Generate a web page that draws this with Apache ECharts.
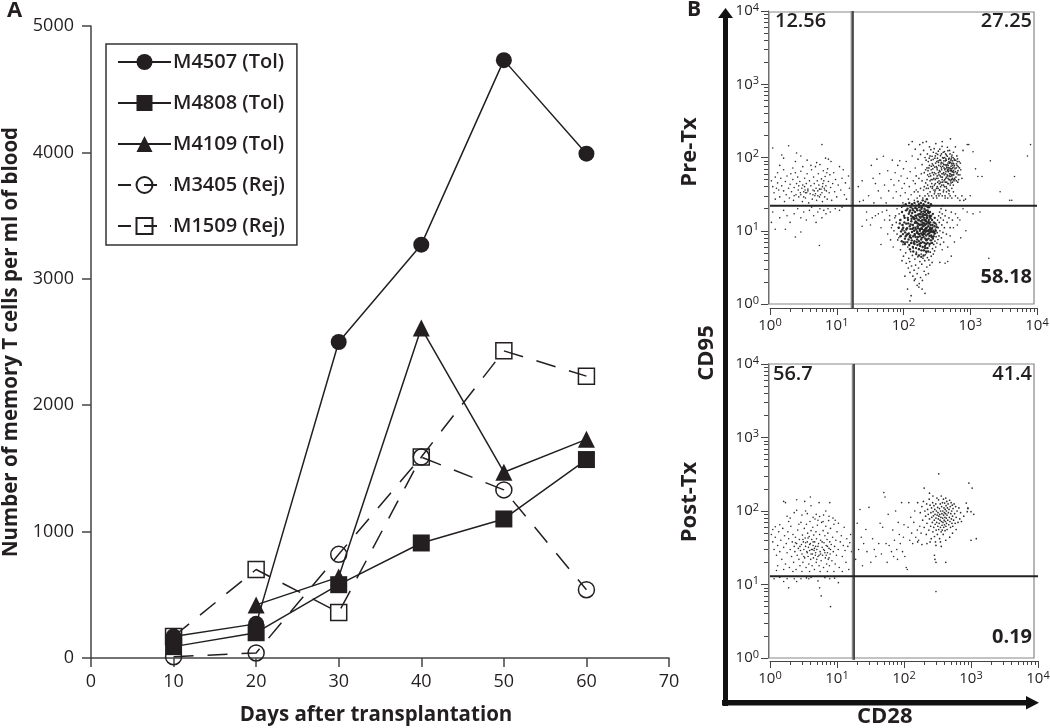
<!DOCTYPE html>
<html>
<head>
<meta charset="utf-8">
<title>Memory T cells</title>
<script src="https://cdn.jsdelivr.net/npm/echarts@6/dist/echarts.min.js"></script>
<style>
html, body { margin: 0; padding: 0; background: #fff; }
#main { width: 1050px; height: 728px; }
</style>
</head>
<body>
<div id="main"></div>
<script>
// panel A
var days = [10, 20, 30, 40, 50, 60];
var m4507 = [170, 270, 2500, 3270, 4730, 3990];
var m4808 = [90, 200, 580, 910, 1100, 1570];
var m4109 = [null, 420, 640, 2610, 1470, 1730];
var m3405 = [10, 40, 820, 1590, 1330, 540];
var m1509 = [170, 700, 360, 1590, 2430, 2230];

// panel B, minor ticks and gates
var minorTicks = [2,3,4,5,6,7,8,9,20,30,40,50,60,70,80,90,200,300,400,500,600,700,800,900,2000,3000,4000,5000,6000,7000,8000,9000];
var preGateX = 17, preGateY = 22;
var postGateX = 17.5, postGateY = 13;

// pre-Tx dots
var preLeft = [[1.1,135],[1.3,62],[1.5,108],[1.6,98],[1.9,145],[1.4,78],[1.2,54],[2.4,88],[2.5,115],[2.9,105],[3.1,75],[6,150],[6.8,98],[7.5,95],[8.2,88],[1.05,48],[1.1,40],[1.15,33],[1.2,27],[1.3,45],[1.35,36],[1.4,29],[1.45,52],[1.5,41],[1.6,35],[1.65,25],[1.7,47],[1.75,31],[1.8,56],[1.9,38],[1.95,28],[2,43],[2.05,60],[2.1,34],[2.2,50],[2.25,26],[2.3,39],[2.4,62],[2.45,31],[2.5,44],[2.6,54],[2.65,36],[2.7,29],[2.8,47],[2.85,33],[2.9,65],[3,38],[3.05,25],[3.1,42],[3.2,34],[3.3,52],[3.35,36],[3.4,28],[3.5,44],[3.55,33],[3.6,60],[3.7,37],[3.8,24],[3.9,48],[4,32],[4.1,41],[4.2,68],[4.3,27],[4.4,36],[4.5,54],[4.6,44],[4.7,30],[4.8,75],[4.9,38],[5,26],[5.1,48],[5.2,35],[5.3,60],[5.4,42],[5.5,29],[5.6,80],[5.8,37],[5.9,51],[6,33],[6.1,25],[6.2,44],[6.3,66],[6.5,38],[6.6,29],[6.7,55],[6.9,41],[7,35],[7.2,27],[7.3,70],[7.5,47],[7.7,33],[7.9,58],[8.1,39],[8.4,26],[8.7,44],[9,62],[9.3,34],[9.6,50],[10,29],[10.5,42],[11,75],[11.5,36],[12,52],[12.5,68],[13,31],[13.5,45],[14,27],[15,56],[15.5,38],[4.1,78],[5,85],[3.6,92],[2.2,72],[1.6,68],[4.6,35],[3.2,29],[2.7,41],[5.7,31],[6.4,48],[7.1,62],[3.4,33],[2.3,30],[1.25,38],[4.8,32],[5.5,37],[6.1,40],[3.7,35],[2.9,31],[3.3,40],[4.4,31],[5.2,30],[6.6,36]];
var preLowLeft = [[1.1,18],[1.4,15],[1.6,19],[1.8,16],[2,13],[2.3,17],[2.6,20],[2.9,15],[3.2,18],[3.5,14],[3.9,19],[4.2,21],[4.5,16],[4.9,13],[5.2,18],[5.6,20],[6,15],[6.4,19],[6.9,17],[7.4,20],[8,18],[9.5,20],[11,19],[12,21],[1.2,10.5],[1.7,10.5],[2.4,8.2],[2.9,9.6],[5.5,6.3],[1.05,13]];
var preMid = [[21,40],[22,25],[24,48],[25,26],[28,18],[30,30],[32,12],[33,78],[35,52],[36,24],[38,44],[40,95],[42,35],[44,60],[46,28],[48,18],[50,104],[52,42],[55,24],[58,66],[60,35],[62,16],[65,50],[68,92],[70,28],[72,42],[75,62],[78,34],[80,20],[82,78],[85,48],[88,90],[90,30],[92,56],[95,38],[98,24],[100,70],[103,44],[106,33],[110,88],[114,52],[118,27],[122,40],[126,64],[130,31],[135,105],[140,48],[145,26],[150,72],[155,36],[28,14],[34,15],[42,17],[52,14],[58,9],[46,11],[64,7.5],[74,15],[85,8],[56,19],[66,11],[38,16],[24,11.5],[46,6.5],[70,6]];
var preArm = [[120,150],[135,165],[150,130],[165,95],[175,150],[180,110],[190,80],[195,160],[200,125],[205,62],[210,100],[215,45],[220,165],[225,72],[230,32],[235,88],[240,55],[245,140],[250,105],[255,40],[260,68],[265,30],[270,82],[275,50],[280,118],[285,36],[290,62],[295,98],[300,44],[305,155],[310,75],[315,28],[320,56],[325,110],[330,38],[335,86],[340,48],[345,66],[350,130],[355,32],[360,92],[365,54],[370,72],[375,42],[380,165],[385,100],[390,60],[395,34],[400,80],[405,48],[410,120],[415,68],[420,28],[425,90],[430,52],[435,40],[440,108],[445,74],[450,58],[455,138],[460,44],[465,84],[470,64],[475,95],[480,50],[485,35],[490,125],[495,72],[500,55],[505,180],[510,86],[515,45],[520,66],[525,102],[530,38],[540,78],[550,58],[560,118],[570,48],[580,92],[590,70],[600,140],[610,54],[620,82],[630,105],[640,62],[650,46],[660,75],[680,88],[700,58],[720,68],[750,52],[780,125],[230,58],[240,72],[250,48],[260,92],[270,62],[280,78],[290,42],[300,105],[310,52],[320,68],[330,90],[340,58],[350,44],[360,76],[370,112],[380,50],[390,84],[400,62],[410,40],[420,70],[430,96],[440,54],[450,80],[460,66],[470,36],[480,88],[490,60],[500,42],[510,70],[520,96],[530,56],[540,46],[550,84],[560,66],[570,74],[580,52],[600,64],[620,48],[640,88],[660,58],[215,68],[225,50],[235,38],[245,78],[255,56],[265,44],[275,70],[285,52],[295,34],[305,60],[315,88],[325,46],[335,62],[345,36],[355,56],[365,82],[375,60],[385,46],[395,98],[405,72],[415,50],[425,60],[435,78],[445,46],[455,68],[465,52],[475,72],[485,56],[495,86],[505,60],[515,76],[525,50],[535,64],[545,72],[555,50],[565,58],[190,48],[200,36],[210,30],[180,38],[170,52],[160,28],[150,44],[175,30],[195,28],[205,40],[185,60],[165,34],[155,56],[145,34],[220,38],[230,42],[240,30],[250,34],[260,50],[270,38],[280,28],[290,32],[300,36],[310,30],[320,40],[330,32],[340,30],[350,36],[360,40],[380,30],[400,36],[420,30],[440,34],[460,28],[480,32],[500,30],[530,28],[560,34],[600,30],[650,28],[700,26],[750,30],[800,26]];
var preArmMore = [[218,92],[228,112],[233,66],[243,98],[248,60],[257,128],[262,76],[268,104],[273,40],[278,94],[283,58],[288,132],[293,74],[298,50],[303,84],[308,114],[313,38],[318,72],[323,98],[328,52],[333,122],[338,78],[343,44],[348,92],[353,64],[358,106],[363,46],[368,86],[373,68],[378,142],[383,54],[388,76],[393,118],[398,42],[403,90],[408,58],[413,100],[418,80],[423,46],[428,112],[433,64],[438,92],[443,38],[448,72],[453,104],[458,56],[463,124],[468,78],[473,44],[478,68],[483,98],[488,84],[493,50],[498,112],[503,66],[508,48],[513,92],[518,58],[523,82],[528,70],[533,108],[538,52],[543,90],[548,64],[553,100],[558,42],[563,82],[568,62],[573,96],[578,78],[590,50],[605,92],[615,72],[625,60],[635,78],[645,96],[655,66],[670,50],[690,72],[710,84]];

var preHalo = [[62,14],[68,12],[72,10],[76,16],[78,13],[80,9],[82,7.5],[84,11],[86,17],[88,14],[90,5.5],[92,8.5],[94,21],[96,12],[98,6.5],[100,4.5],[102,10],[104,15],[106,7],[108,5],[112,19],[116,6],[120,4.2],[124,3.8],[128,5.2],[132,3.3],[136,4.6],[140,5.8],[144,2.9],[148,4.1],[152,3.4],[156,5.1],[160,2.6],[164,4.4],[168,3.1],[172,5.6],[176,3.8],[180,2.3],[184,4.8],[188,3.5],[192,2.1],[196,4.2],[200,5.4],[204,2.8],[208,3.9],[212,4.7],[216,2.5],[220,5],[224,3.2],[228,4.3],[232,5.8],[236,2.6],[240,4],[244,6.2],[248,3.4],[252,5.1],[256,6.8],[260,4.5],[264,7.4],[268,3.7],[272,5.7],[276,8],[280,4.8],[284,6.5],[288,9],[292,5.3],[296,7.2],[300,10.5],[304,6],[308,8.3],[312,12],[316,6.8],[320,9.4],[324,14],[328,7.6],[332,11],[336,16],[340,8.5],[344,13],[348,18],[352,10],[356,6.5],[360,15],[365,20],[370,8],[375,12],[380,17],[385,22],[390,9.5],[395,14],[400,7],[410,11],[420,16],[430,19],[440,9],[450,13],[460,6],[480,15],[500,11],[520,18],[540,14],[150,2.2],[138,2.4],[172,1.9],[125,2.7],[115,1.6],[130,1.3],[125,1.1],[210,1.4],[170,1.7],[190,1.6],[118,3.1],[110,3.6],[95,3.9],[105,2.4],[160,1.8],[145,2.1]];
var preFar = [[850,27],[900,150],[950,150],[1100,120],[1200,70],[1000,30],[1300,55],[1500,55],[2000,90],[2800,34],[3900,26],[4200,26],[4600,55],[7200,105],[8000,150],[900,18],[1100,17],[1400,18],[1900,4.2],[780,20],[860,10],[720,8],[650,15],[600,17],[700,14],[640,12],[560,11],[580,7],[500,8.5],[520,4.5],[460,3.8],[420,3.6],[380,5.5],[350,3.7]];
var preCore = [[100,22],[108,23],[115,20],[122,24],[128,21],[134,23],[140,19],[146,24],[152,22],[158,20],[164,25],[170,23],[176,19],[182,24],[188,21],[194,26],[200,23],[206,20],[212,25],[218,22],[224,27],[230,19],[236,24],[242,21],[250,18],[258,23],[95,18],[102,16],[109,19],[116,15],[123,18],[130,16],[137,20],[143,15],[149,18],[155,16],[161,19],[167,14],[173,17],[179,15],[185,18],[191,14],[197,17],[203,15],[209,18],[215,14],[221,17],[227,15],[233,18],[239,14],[245,16],[252,13],[260,16],[268,14],[276,17],[285,13],[294,15],[90,14],[97,12],[104,15],[110,12.5],[117,14],[124,11.5],[131,13.5],[138,12],[145,14.5],[151,11],[157,13],[163,11.5],[169,14],[175,12],[181,13.5],[187,11],[193,13],[199,11.5],[205,14],[211,12],[217,13.5],[223,11],[229,13],[235,11.5],[241,12.5],[248,10.5],[255,12],[263,10.5],[272,12],[281,10],[292,11.5],[305,10],[85,11],[92,9.8],[99,11],[106,9.5],[113,10.8],[120,9.2],[127,10.6],[134,9.6],[141,11],[147,9],[153,10.4],[159,9.4],[165,10.8],[171,9],[177,10.4],[183,9.2],[189,10.6],[195,8.8],[201,10.2],[207,9],[213,10.5],[219,8.6],[225,10],[231,9],[238,10.2],[245,8.5],[252,9.6],[260,8.6],[270,9.6],[282,8.4],[295,9.2],[90,8.4],[98,9],[105,7.8],[112,8.8],[119,7.6],[126,8.6],[133,7.4],[140,8.4],[146,7.2],[152,8.2],[158,7],[164,8.2],[170,7.2],[176,8.4],[182,6.8],[188,8],[194,7],[200,8.2],[206,6.8],[212,7.8],[218,6.6],[224,7.6],[230,6.8],[238,7.8],[246,6.6],[255,7.4],[268,6.8],[105,6.6],[114,7],[122,6.4],[130,6.8],[138,6],[146,6.6],[154,5.8],[162,6.4],[170,5.6],[178,6.2],[186,5.4],[194,6],[202,5.4],[210,5.8],[218,5.2],[226,5.8],[234,5.2],[125,5.6],[140,5.2],[155,4.8],[170,4.6],[185,4.4],[200,4.6],[120,17],[135,17.5],[150,16],[165,16.5],[180,16.8],[195,16],[210,16.4],[225,16],[240,17.5],[132,14.6],[148,12.8],[162,12.6],[178,10.6],[192,12],[208,10],[222,12.4],[236,9.8],[128,12.2],[144,10],[160,9.8],[176,10],[196,9.6],[216,10.8],[136,10.6],[152,13.4],[168,12.4],[184,12.2],[200,12.6],[214,9.6],[130,8],[148,8.8],[166,9.2],[184,7.6],[202,9.2],[220,7.4],[142,6.8],[160,7.6],[174,6.6],[192,8.8],[210,6.2],[150,20.5],[186,20],[216,19],[172,21],[200,18.4],[126,19],[232,21],[248,15.5],[118,12.6],[110,10.4],[103,13],[96,10.4],[88,12.6],[124,8.2],[116,9],[108,8.4],[100,7],[94,7.2],[138,15.4],[156,14.8],[174,15.6],[190,15.6],[206,12.6],[222,15],[238,13.2],[254,14.8],[270,11],[264,8.2],[276,7.8],[286,9.6],[300,12.6],[316,11.2],[250,11],[258,10],[242,9.2]];

// post-Tx dots
var postLeft = [[1.05,48],[1.1,38],[1.15,30],[1.2,44],[1.25,25],[1.3,34],[1.35,52],[1.4,28],[1.45,40],[1.5,22],[1.55,58],[1.6,32],[1.65,46],[1.7,19],[1.75,36],[1.8,27],[1.85,52],[1.9,42],[1.95,17],[2,30],[2.05,62],[2.1,24],[2.15,38],[2.2,48],[2.25,20],[2.3,33],[2.35,28],[2.4,44],[2.45,16],[2.5,36],[2.55,25],[2.6,55],[2.65,31],[2.7,22],[2.75,41],[2.8,18],[2.85,29],[2.9,70],[2.95,35],[3,26],[3.05,47],[3.1,20],[3.15,38],[3.2,30],[3.25,58],[3.3,23],[3.35,43],[3.4,33],[3.45,17],[3.5,66],[3.55,28],[3.6,38],[3.65,50],[3.7,24],[3.75,32],[3.8,19],[3.85,45],[3.9,29],[3.95,72],[4,36],[4.05,22],[4.1,54],[4.15,30],[4.2,41],[4.25,18],[4.3,26],[4.35,60],[4.4,34],[4.45,23],[4.5,47],[4.55,29],[4.6,16],[4.65,38],[4.7,78],[4.75,25],[4.8,33],[4.85,52],[4.9,20],[4.95,42],[5,30],[5.1,64],[5.2,24],[5.3,36],[5.4,18],[5.5,48],[5.6,28],[5.7,40],[5.8,21],[5.9,70],[6,32],[6.1,25],[6.2,54],[6.3,17],[6.4,37],[6.5,29],[6.6,46],[6.7,23],[6.8,62],[6.9,34],[7,19],[7.1,41],[7.2,27],[7.3,50],[7.4,22],[7.5,74],[7.6,31],[7.7,18],[7.8,38],[7.9,26],[8,58],[8.2,35],[8.4,21],[8.6,44],[8.8,28],[9,66],[9.2,33],[9.4,19],[9.6,40],[9.8,25],[10,52],[10.4,30],[10.8,17],[11.2,38],[11.6,46],[12,24],[12.4,34],[12.8,60],[13.2,29],[13.6,20],[14,42],[14.5,33],[15,16],[15.5,37],[16,48],[16.5,28],[1.6,135],[1.7,130],[2.5,142],[2.3,95],[2.5,102],[3.3,135],[3.4,100],[4,155],[5.4,130],[7.8,130],[4.1,118],[2,80],[1.8,85],[3,88],[3.6,92],[4.4,82],[4.9,90],[5.5,84],[6.3,88],[6.8,100],[7.6,85],[8.7,80],[9.4,75],[1.9,72],[2.7,66],[5.2,75],[6.2,72],[10.5,68],[3.2,24],[3.6,27],[4.1,26],[4.6,31],[5.2,33],[5.7,26],[6.3,30],[3.9,35],[4.4,38],[5,22],[6.6,27],[7.2,33],[2.8,33],[3.1,41],[3.4,37],[2.4,37],[3.7,43],[5.4,25],[6,38],[6.9,25],[7.6,23],[8,30],[4.8,27],[4.3,30],[1.2,61],[1.4,65],[1.1,56],[1.3,18],[1.6,16],[1.25,15.5],[2.2,15],[3,15],[3.9,15],[5.6,15],[7.2,15],[9,15],[12,15]];
var postLow = [[1.15,12],[1.4,12.5],[1.6,11],[1.8,12],[2.3,12],[1.9,9],[2.5,11],[2.9,12],[3.5,12.3],[4.1,12.5],[5.2,11.2],[5.5,9],[5.8,7],[7.8,12],[9.2,12.2],[10.5,10.6],[8,5],[3.8,12],[6.6,12.4],[300,8]];
var postMid = [[19,22],[20,68],[21,30],[22,105],[23,44],[24,18],[25,36],[27,56],[28,28],[30,112],[32,20],[34,42],[36,30],[38,24],[42,36],[44,68],[46,26],[50,178],[52,155],[48,60],[54,36],[56,20],[58,90],[60,34],[65,28],[68,55],[70,24],[72,40],[75,100],[78,30],[80,22],[82,70],[85,48],[88,36],[92,130],[95,28],[98,44],[100,65],[103,24],[108,17],[112,16],[115,60],[118,130],[122,40],[126,82],[130,50],[135,36],[140,70],[145,100],[150,44],[158,55],[165,40],[172,62],[180,50]];
var postRight = [[175,95],[185,115],[190,75],[195,135],[200,60],[205,100],[210,85],[215,48],[218,125],[220,68],[225,105],[230,90],[235,55],[238,145],[240,78],[245,120],[250,62],[252,95],[255,42],[258,110],[260,82],[265,70],[268,130],[270,52],[272,98],[275,86],[278,60],[280,118],[283,75],[285,45],[288,105],[290,90],[292,66],[295,38],[298,125],[300,80],[302,55],[305,100],[308,70],[310,150],[312,88],[315,48],[318,112],[320,62],[322,95],[325,78],[328,142],[330,56],[332,85],[335,68],[338,108],[340,42],[342,90],[345,75],[348,125],[350,60],[352,100],[355,82],[358,52],[360,160],[362,72],[365,115],[368,92],[370,64],[372,55],[375,130],[378,80],[380,100],[382,70],[385,48],[388,145],[390,88],[392,60],[395,110],[398,75],[400,95],[402,65],[405,128],[408,82],[410,54],[412,105],[415,72],[418,92],[420,150],[422,62],[425,118],[428,80],[430,100],[432,68],[435,135],[438,88],[440,56],[445,110],[450,75],[455,125],[460,95],[465,65],[470,105],[475,82],[480,140],[485,72],[490,115],[495,60],[500,92],[505,130],[510,78],[515,100],[520,68],[525,120],[530,85],[535,62],[540,108],[550,75],[560,125],[570,92],[580,68],[590,115],[600,82],[620,100],[640,70],[660,110],[680,78],[700,95],[720,72],[780,85],[850,128],[900,110],[1000,98],[1100,90],[900,108],[880,98],[1000,40],[1200,42],[330,320],[270,160],[930,240],[1040,205],[200,205],[240,175],[160,130],[285,25],[290,22],[300,20],[420,20],[360,33],[300,34],[245,38],[220,36],[185,35],[160,38],[420,40],[350,38],[480,44],[530,50],[600,56]];

var ink = '#231f20';
var fontName = '"Open Sans", "Noto Sans", sans-serif';

function decade(value) {
    return '{b|10}{s|' + Math.round(Math.log(value) / Math.LN10) + '}';
}

function logAxis(name, isMinor, offset, extra) {
    var axis = {
        type: 'log', logBase: 10, min: 1, max: 10000, gridIndex: name,
        offset: offset,
        splitLine: { show: false },
        axisLine: { show: !isMinor, lineStyle: { color: '#444', width: 1 } },
        axisTick: isMinor
            ? { show: true, length: 4, customValues: minorTicks, lineStyle: { color: '#444', width: 1 } }
            : { show: true, length: 7, lineStyle: { color: '#444', width: 1 } },
        axisLabel: isMinor ? { show: false } : {
            show: true, margin: 9, formatter: decade, color: ink, fontFamily: fontName,
            rich: {
                b: { fontSize: 15, fontFamily: fontName, color: ink },
                s: { fontSize: 11, fontFamily: fontName, color: ink, padding: [0, 0, 7, 0] }
            }
        }
    };
    for (var k in extra) axis[k] = extra[k];
    return axis;
}

function lineSeries(name, values, symbol, size, dashed) {
    return {
        name: name, type: 'line', xAxisIndex: 0, yAxisIndex: 0,
        data: days.map(function (d, i) { return [d, values[i]]; }),
        symbol: symbol, symbolSize: size, showAllSymbol: true,
        lineStyle: { color: ink, width: 1.5, type: dashed ? [20, 14] : 'solid' },
        itemStyle: dashed
            ? { color: 'transparent', borderColor: ink, borderWidth: 1.5 }
            : { color: ink, borderColor: ink, borderWidth: 0 },
        emphasis: { disabled: true }
    };
}

function dots(points, axisIndex, size) {
    return {
        type: 'scatter', xAxisIndex: axisIndex, yAxisIndex: axisIndex, data: points,
        symbol: 'circle', symbolSize: size, silent: true,
        itemStyle: { color: '#222', opacity: 0.95 }
    };
}

function gate(points, axisIndex, color, width) {
    return {
        type: 'line', xAxisIndex: axisIndex, yAxisIndex: axisIndex, data: points,
        symbol: 'none', clip: false, silent: true, z: 5,
        lineStyle: { color: color, width: width }
    };
}

function label(text, x, y, align, weight) {
    return {
        type: 'text', left: align === 'left' ? x : null, right: align === 'right' ? 1050 - x : null, top: y,
        style: { text: text, font: weight + ' 20px ' + fontName, fill: ink }
    };
}

function sideLabel(text, x, y, size) {
    return {
        type: 'text', x: x, y: y, rotation: Math.PI / 2,
        style: { text: text, font: '700 ' + size + 'px ' + fontName, fill: ink, align: 'center', verticalAlign: 'middle' }
    };
}

var option = {
    animation: false,
    backgroundColor: '#fff',
    textStyle: { fontFamily: fontName },
    grid: [
        { left: 91, top: 26, width: 578, height: 632, outerBoundsMode: 'none' },
        { left: 770, top: 11, width: 267, height: 293, outerBoundsMode: 'none' },
        { left: 770, top: 364, width: 268, height: 294, outerBoundsMode: 'none' }
    ],
    legend: {
        left: 106, top: 44, orient: 'vertical', padding: [8, 12, 9, 11],
        itemWidth: 53, itemHeight: 20, itemGap: 21,
        borderColor: '#333', borderWidth: 1.5, selectedMode: false,
        textStyle: { fontSize: 20, fontWeight: 600, color: ink, padding: [0, 0, 0, -3], fontFamily: fontName },
        data: [
            { name: 'M4507 (Tol)' }, { name: 'M4808 (Tol)' }, { name: 'M4109 (Tol)' },
            { name: 'M3405 (Rej)', lineStyle: { type: [13, 13] } },
            { name: 'M1509 (Rej)', lineStyle: { type: [13, 13] } }
        ]
    },
    xAxis: [
        {
            type: 'value', gridIndex: 0, min: 0, max: 70, interval: 10,
            name: 'Days after transplantation', nameLocation: 'middle', nameGap: 47,
            nameTextStyle: { fontSize: 20.5, fontWeight: 700, color: ink, fontFamily: fontName, padding: [0, 8, 0, 0] },
            splitLine: { show: false },
            axisLine: { onZero: false, lineStyle: { color: '#444', width: 1.5 } },
            axisTick: { length: 9, lineStyle: { color: '#444', width: 1.5 } },
            axisLabel: { fontSize: 18, color: ink, margin: 15, fontFamily: fontName }
        },
        logAxis(1, false, 4, { position: 'bottom' }),
        logAxis(1, true, 4, { position: 'bottom' }),
        logAxis(2, false, 3, { position: 'bottom' }),
        logAxis(2, true, 3, { position: 'bottom' })
    ],
    yAxis: [
        {
            type: 'value', gridIndex: 0, min: 0, max: 5000, interval: 1000,
            name: 'Number of memory T cells per ml of blood', nameLocation: 'middle', nameGap: 67,
            nameTextStyle: { fontSize: 20.5, fontWeight: 700, color: ink, fontFamily: fontName },
            splitLine: { show: false },
            axisLine: { show: true, lineStyle: { color: '#444', width: 1.5 } },
            axisTick: { show: true, length: 9, lineStyle: { color: '#444', width: 1.5 } },
            axisLabel: { fontSize: 18, color: ink, margin: 17, fontFamily: fontName, formatter: function (v) { return String(v); } }
        },
        logAxis(1, false, 2, { position: 'left' }),
        logAxis(1, true, 2, { position: 'left' }),
        logAxis(2, false, 2, { position: 'left' }),
        logAxis(2, true, 2, { position: 'left' })
    ],
    series: [
        lineSeries('M4507 (Tol)', m4507, 'circle', 16, false),
        lineSeries('M4808 (Tol)', m4808, 'rect', 17, false),
        lineSeries('M4109 (Tol)', m4109, 'triangle', 17, false),
        lineSeries('M3405 (Rej)', m3405, 'circle', 16, true),
        lineSeries('M1509 (Rej)', m1509, 'rect', 16, true),

        dots(preLeft, 1, 1.6), dots(preLowLeft, 1, 1.6), dots(preMid, 1, 1.6), dots(preArm, 1, 1.7), dots(preArmMore, 1, 1.7),
        dots(preFar, 1, 1.6), dots(preHalo, 1, 1.7), dots(preCore, 1, 2.4),
        gate([[preGateX, 10000], [preGateX, 0.88]], 1, '#888', 3),
        gate([[preGateX + 0.5, 10000], [preGateX + 0.5, 0.88]], 1, '#222', 1.2),
        gate([[1, preGateY], [10000, preGateY]], 1, '#222', 2),

        dots(postLeft, 3, 1.6), dots(postLow, 3, 1.6), dots(postMid, 3, 1.6), dots(postRight, 3, 1.7),
        gate([[postGateX, 10000], [postGateX, 0.95]], 3, '#888', 3),
        gate([[postGateX + 0.5, 10000], [postGateX + 0.5, 0.95]], 3, '#222', 1.2),
        gate([[1, postGateY], [10000, postGateY]], 3, '#222', 2)
    ],
    graphic: [
        // frames of the two dot plots
        { type: 'rect', shape: { x: 769, y: 12, width: 265, height: 292 }, z: 1, style: { fill: 'none', stroke: '#888', lineWidth: 1.2 } },
        { type: 'rect', shape: { x: 769, y: 364, width: 265, height: 294 }, z: 1, style: { fill: 'none', stroke: '#888', lineWidth: 1.2 } },
        // CD95 / CD28 arrows
        { type: 'rect', shape: { x: 723, y: 15, width: 5, height: 691 }, style: { fill: '#111' } },
        { type: 'rect', shape: { x: 722, y: 700, width: 306, height: 5.5 }, style: { fill: '#111' } },
        { type: 'polygon', shape: { points: [[725.5, 8], [733, 18], [718, 18]] }, style: { fill: '#111' } },
        { type: 'polygon', shape: { points: [[1039, 702.7], [1026, 696], [1026, 709.5]] }, style: { fill: '#111' } },

        { type: 'text', left: 7, top: 0, style: { text: 'A', font: '700 22px ' + fontName, fill: ink } },
        { type: 'text', left: 687, top: 0, style: { text: 'B', font: '700 21px ' + fontName, fill: ink } },
        sideLabel('Pre-Tx', 690, 152, 22),
        sideLabel('Post-Tx', 690, 502, 22),
        sideLabel('CD95', 707, 353, 22),
        { type: 'text', left: 857, top: 706, style: { text: 'CD28', font: '700 22px ' + fontName, fill: ink } },

        label('12.56', 775, 11, 'left', 600),
        label('27.25', 1032, 11, 'right', 600),
        label('58.18', 1032, 267, 'right', 700),
        label('56.7', 773, 364, 'left', 600),
        label('41.4', 1032, 364, 'right', 600),
        label('0.19', 1032, 627, 'right', 700)
    ]
};

var chart = echarts.init(document.getElementById('main'), null, { renderer: 'canvas' });
chart.setOption(option);
</script>
</body>
</html>
